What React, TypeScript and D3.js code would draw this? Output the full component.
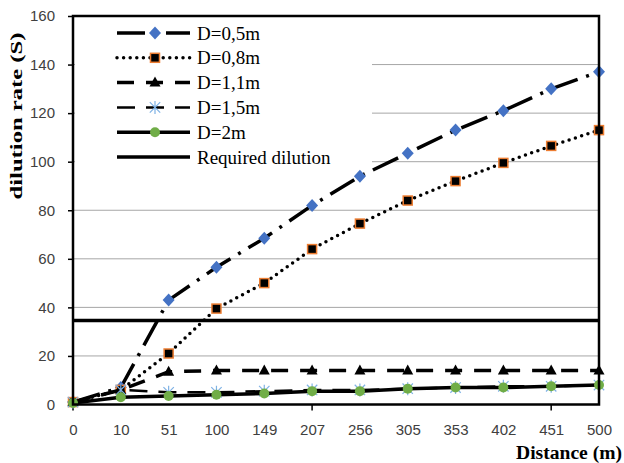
import { useEffect, useRef } from 'react'
import * as d3 from 'd3'

// categories (distance, m) and dilution values
const distances = ['0', '10', '51', '100', '149', '207', '256', '305', '353', '402', '451', '500']
const d05 = [1, 7, 43, 56.5, 68.5, 82, 94, 103.5, 113, 121, 130, 137]
const d08 = [1, 6, 21, 39.5, 50, 64, 74.5, 84, 92, 99.5, 106.5, 113]
const d11 = [1, 6, 13.5, 14, 14, 14, 14, 14, 14, 14, 14, 14]
const d15 = [1, 6, 5, 5, 5.5, 6, 6, 6.5, 7, 7.5, 7.5, 8]
const d20 = [0.6, 3, 3.5, 4, 4.5, 5.5, 5.5, 6.5, 7, 7, 7.5, 8]
const requiredDilution = 34.6
const yTicks = [0, 20, 40, 60, 80, 100, 120, 140, 160]

const W = 624
const H = 463
const PLOT = { left: 73, right: 599, top: 16, bottom: 404.5 }

const SERIES = [
  { name: 'D=0,5m', values: d05, width: 3.5, dash: '28 9 3 9', cap: 'butt', marker: 'diamond' },
  { name: 'D=0,8m', values: d08, width: 3.5, dash: '0 6.6', cap: 'round', marker: 'square' },
  { name: 'D=1,1m', values: d11, width: 3.5, dash: '17 12', cap: 'butt', marker: 'triangle' },
  { name: 'D=1,5m', values: d15, width: 2.5, dash: '18 11', cap: 'butt', marker: 'star' },
  { name: 'D=2m', values: d20, width: 3.5, dash: null, cap: 'butt', marker: 'circle' },
]

function drawMarker(g, type, x, y) {
  if (type === 'diamond') {
    g.append('path')
      .attr('d', `M${x},${y - 6.5}L${x + 6},${y}L${x},${y + 6.5}L${x - 6},${y}Z`)
      .attr('fill', '#4472c4')
  } else if (type === 'square') {
    g.append('rect')
      .attr('x', x - 4.5).attr('y', y - 4.5).attr('width', 9).attr('height', 9)
      .attr('fill', '#000').attr('stroke', '#ed7d31').attr('stroke-width', 1.5)
  } else if (type === 'triangle') {
    g.append('path')
      .attr('d', `M${x},${y - 6}L${x + 5.5},${y + 4}L${x - 5.5},${y + 4}Z`)
      .attr('fill', '#000')
  } else if (type === 'star') {
    const r = 6.5
    const d = r * 0.8
    g.append('path')
      .attr('d', `M${x},${y - r}L${x},${y + r}M${x - d},${y - d}L${x + d},${y + d}M${x - d},${y + d}L${x + d},${y - d}`)
      .attr('stroke', '#7fb2e5').attr('stroke-width', 1.2).attr('fill', 'none')
  } else if (type === 'circle') {
    g.append('circle').attr('cx', x).attr('cy', y).attr('r', 5).attr('fill', '#70ad47')
  }
}

export default function App() {
  const svgRef = useRef(null)

  useEffect(() => {
    const el = svgRef.current
    d3.select(el).selectAll('*').remove()
    const svg = d3.select(el)

    const x = d3.scalePoint().domain(distances).range([PLOT.left, PLOT.right])
    const y = d3.scaleLinear().domain([0, 160]).range([PLOT.bottom, PLOT.top])

    // Grid lines
    svg.append('g')
      .selectAll('line')
      .data(yTicks.filter(t => t > 0 && t < 160))
      .join('line')
      .attr('x1', PLOT.left).attr('x2', PLOT.right)
      .attr('y1', d => y(d)).attr('y2', d => y(d))
      .attr('stroke', '#a6a6a6').attr('stroke-width', 1)

    // Y axis
    svg.append('g')
      .attr('transform', `translate(${PLOT.left},0)`)
      .call(d3.axisLeft(y).tickValues(yTicks).tickSize(5).tickPadding(13))
      .call(g => {
        g.select('.domain').remove()
        g.selectAll('line').attr('stroke', '#000').attr('stroke-width', 1.5)
        g.selectAll('text').attr('fill', '#404040').attr('font-size', '15px')
          .attr('font-family', '"Liberation Sans", Arial, sans-serif')
      })

    // X axis
    svg.append('g')
      .attr('transform', `translate(0,${PLOT.bottom})`)
      .call(d3.axisBottom(x).tickSize(0).tickPadding(20))
      .call(g => {
        g.select('.domain').remove()
        g.selectAll('text').attr('fill', '#404040').attr('font-size', '15px')
          .attr('font-family', '"Liberation Sans", Arial, sans-serif')
      })
    svg.append('g')
      .selectAll('line')
      .data(distances.filter((d, i) => i % 5 === 0))
      .join('line')
      .attr('x1', d => x(d)).attr('x2', d => x(d))
      .attr('y1', PLOT.bottom).attr('y2', PLOT.bottom + 6)
      .attr('stroke', '#000').attr('stroke-width', 1.5)

    // Legend background (covers grid lines)
    svg.append('rect')
      .attr('x', PLOT.left + 2).attr('y', PLOT.top + 2)
      .attr('width', 297).attr('height', 152)
      .attr('fill', '#fff')

    // Series
    const line = d3.line().x(d => d[0]).y(d => d[1])
    SERIES.forEach(s => {
      const pts = s.values.map((v, i) => [x(distances[i]), y(v)])
      svg.append('path')
        .attr('d', line(pts))
        .attr('fill', 'none')
        .attr('stroke', '#000')
        .attr('stroke-width', s.width)
        .attr('stroke-dasharray', s.dash)
        .attr('stroke-linecap', s.cap)
      const mg = svg.append('g')
      pts.forEach(p => drawMarker(mg, s.marker, p[0], p[1]))
    })

    // Required dilution
    svg.append('line')
      .attr('x1', PLOT.left).attr('x2', PLOT.right)
      .attr('y1', y(requiredDilution)).attr('y2', y(requiredDilution))
      .attr('stroke', '#000').attr('stroke-width', 3.5)

    // Frame
    svg.append('rect')
      .attr('x', PLOT.left).attr('y', PLOT.top)
      .attr('width', PLOT.right - PLOT.left).attr('height', PLOT.bottom - PLOT.top)
      .attr('fill', 'none').attr('stroke', '#000').attr('stroke-width', 2.5)

    // Legend
    const legendItems = [...SERIES, { name: 'Required dilution', width: 3.5, dash: null, cap: 'butt', marker: null }]
    const lg = svg.append('g')
    legendItems.forEach((s, i) => {
      const cy = 33 + i * 24.8
      lg.append('line')
        .attr('x1', 117).attr('x2', 190).attr('y1', cy).attr('y2', cy)
        .attr('stroke', '#000').attr('stroke-width', s.width)
        .attr('stroke-dasharray', s.dash)
        .attr('stroke-linecap', s.cap)
      if (s.marker) drawMarker(lg, s.marker, 155, cy)
      lg.append('text')
        .attr('x', 197).attr('y', cy).attr('dy', '0.35em')
        .attr('font-family', '"Liberation Serif", "Times New Roman", serif')
        .attr('font-size', '19px').attr('fill', '#000')
        .text(s.name)
    })

    // Axis titles
    svg.append('text')
      .attr('transform', 'rotate(-90)')
      .attr('x', -116).attr('y', 22)
      .attr('text-anchor', 'middle')
      .attr('font-family', '"Liberation Serif", "Times New Roman", serif')
      .attr('font-weight', 'bold').attr('font-size', '17px')
      .attr('textLength', 167).attr('lengthAdjust', 'spacingAndGlyphs')
      .text('dilution rate (S)')

    svg.append('text')
      .attr('x', 516).attr('y', 459)
      .attr('font-family', '"Liberation Serif", "Times New Roman", serif')
      .attr('font-weight', 'bold').attr('font-size', '18px')
      .attr('textLength', 106).attr('lengthAdjust', 'spacingAndGlyphs')
      .text('Distance (m)')
  }, [])

  return (
    <svg
      ref={svgRef}
      width={W}
      height={H}
      style={{ position: 'absolute', left: 0, top: 0, background: '#fff', display: 'block' }}
    />
  )
}
